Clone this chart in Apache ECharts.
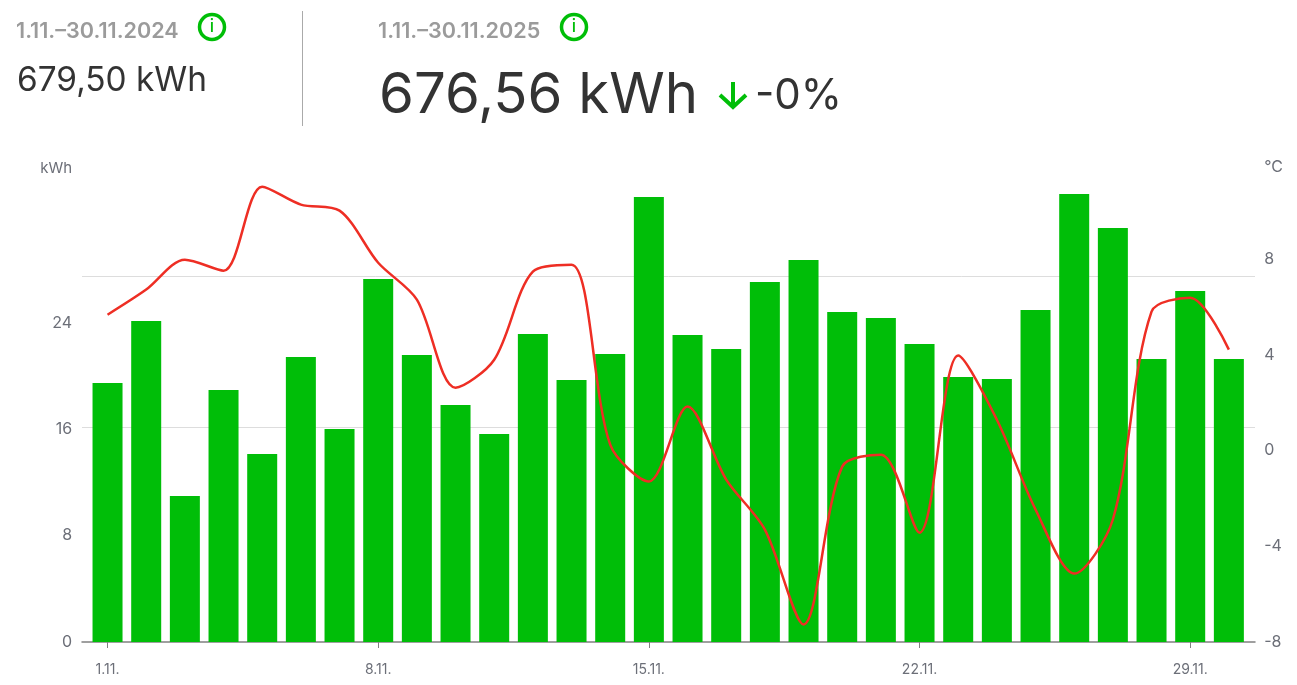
<!DOCTYPE html>
<html><head><meta charset="utf-8">
<style>html,body{margin:0;padding:0;background:#fff}#c{width:1297px;height:685px}</style>
<script src="https://cdn.jsdelivr.net/npm/echarts@6/dist/echarts.min.js"></script>
</head><body><div id="c"></div>
<script>
const days = ['1.11.','2.11.','3.11.','4.11.','5.11.','6.11.','7.11.','8.11.','9.11.','10.11.','11.11.','12.11.','13.11.','14.11.','15.11.','16.11.','17.11.','18.11.','19.11.','20.11.','21.11.','22.11.','23.11.','24.11.','25.11.','26.11.','27.11.','28.11.','29.11.','30.11.'];
const energyKwh = [19.49,24.15,10.99,18.96,14.15,21.44,16.03,27.31,21.6,17.83,15.65,23.18,19.71,21.67,33.48,23.1,22.05,27.09,28.74,24.83,24.38,22.42,19.94,19.79,24.98,33.71,31.15,21.29,26.41,21.29];
const temperatureC = [5.68,6.73,7.98,7.52,11.03,10.28,10.03,7.85,6.31,2.63,3.80,7.48,7.77,0.25,-1.29,1.84,-1.21,-3.30,-7.27,-0.67,-0.17,-3.43,3.97,1.29,-2.46,-5.14,-2.88,5.81,6.39,4.22];
const kwhTicks = [0,8,16,24];
const tempTicks = [-8,-4,0,4,8];
const guideLines = [16.18,27.54];
const FONT = 'Inter';
const GREEN = '#00BE08', GREY='#6c6f78';
function txt(x,y,t,size,color,weight){return {type:'text',x,y,style:{text:t,fontSize:size,fontFamily:FONT,fontWeight:weight||400,fill:color,textVerticalAlign:'middle'}};}
function info(cx,cy){return [
 {type:'circle',shape:{cx,cy,r:12.5},style:{fill:'#fff',stroke:GREEN,lineWidth:3.5}},
 {type:'text',x:cx,y:cy,style:{text:'i',fontSize:17,fontFamily:FONT,fontWeight:500,fill:GREEN,textAlign:'center',textVerticalAlign:'middle'}}];}
const chart = echarts.init(document.getElementById('c'));
chart.setOption({
 animation:false,
 grid:[
  {left:82,width:1173,top:163.5,height:478.5},
  {left:88.2,width:1160,top:163.5,height:478.5}
 ],
 xAxis:[
  {gridIndex:0,type:'value',min:0,max:1,axisLabel:{show:false},axisTick:{show:false},splitLine:{show:false},
   axisLine:{show:true,onZero:false,lineStyle:{color:'#808080',width:1.5}}},
  {gridIndex:1,type:'category',data:days,axisLine:{show:false},
   axisTick:{show:true,alignWithLabel:true,interval:6,length:6,lineStyle:{color:'#808080',width:1}},
   axisLabel:{interval:6,color:GREY,fontFamily:FONT,fontSize:14,margin:21}}
 ],
 yAxis:[
  {gridIndex:0,type:'value',min:0,max:36,show:false,splitLine:{show:false}},
  {gridIndex:1,type:'value',min:0,max:36,position:'left',offset:0,
   name:'kWh',nameLocation:'end',nameGap:-12,nameTextStyle:{color:GREY,fontFamily:FONT,fontSize:15,align:'right',padding:[0,16,0,0]},
   axisLine:{show:false},axisTick:{show:false},splitLine:{show:false},
   axisLabel:{customValues:kwhTicks,color:GREY,fontFamily:FONT,fontSize:16,margin:16,padding:[4,0,0,0]}},
  {gridIndex:1,type:'value',min:-8,max:12,interval:4,position:'right',
   name:'°C',nameLocation:'end',nameGap:-12,nameTextStyle:{color:GREY,fontFamily:FONT,fontSize:16,align:'left',padding:[0,0,0,16]},
   axisLine:{show:false},axisTick:{show:false},splitLine:{show:false},
   axisLabel:{customValues:tempTicks,color:GREY,fontFamily:FONT,fontSize:16,margin:16,padding:[4,0,0,0]}}
 ],
 series:[
  {type:'line',xAxisIndex:0,yAxisIndex:0,data:[],z:0,silent:true,
   markLine:{silent:true,symbol:'none',label:{show:false},z:0,lineStyle:{color:'#dddddd',width:1,type:'solid'},
    data:guideLines.map(v=>({yAxis:v}))}},
  {type:'bar',xAxisIndex:1,yAxisIndex:1,data:energyKwh,barWidth:30,itemStyle:{color:GREEN},z:2},
  {type:'line',xAxisIndex:1,yAxisIndex:2,data:temperatureC,smooth:0.3,showSymbol:false,z:3,
   lineStyle:{color:'#EE2E24',width:2.5}}
 ],
 graphic:[
  txt(16,31,'1.11.–30.11.2024',21.6,'#9b9b9b',600),
  ...info(212,27),
  txt(17,81,'679,50 kWh',33.4,'#333333'),
  {type:'line',shape:{x1:302.5,y1:11,x2:302.5,y2:126},style:{stroke:'#aaaaaa',lineWidth:1}},
  txt(378,31,'1.11.–30.11.2025',21.6,'#9b9b9b',600),
  ...info(574,27),
  txt(379,96,'676,56 kWh',56.3,'#333333'),
  {type:'polyline',shape:{points:[[733,82],[733,107]]},style:{stroke:GREEN,lineWidth:4,fill:null}},
  {type:'polyline',shape:{points:[[720,95],[733,107],[746,95]]},style:{stroke:GREEN,lineWidth:4,fill:null}},
  txt(755,96,'-0%',42,'#333333')
 ]
});
</script></body></html>
